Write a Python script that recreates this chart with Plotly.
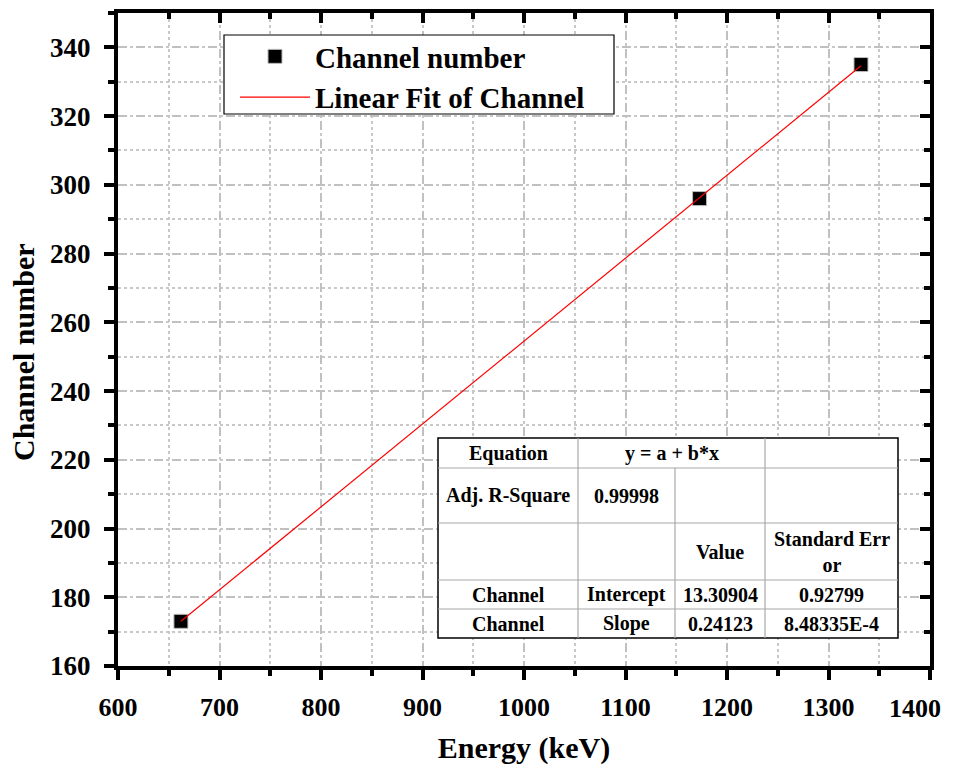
import plotly.graph_objects as go

energy = [662, 1173, 1332]
channel = [173, 296, 335]
intercept = 13.30904
slope = 0.24123
fit_x = [662, 1332]
fit_y = [intercept + slope * v for v in fit_x]

x_ticks = [600, 700, 800, 900, 1000, 1100, 1200, 1300, 1400]
x_tick_labels = ["600", "700", "800", "900", "1000", "1100", "1200", "1300", "1400"]
y_ticks = [160, 180, 200, 220, 240, 260, 280, 300, 320, 340]

table_text = [
    ["Equation", "y = a + b*x", "", ""],
    ["Adj. R-Square", "0.99998", "", ""],
    ["", "", "Value", "Standard Err<br>or"],
    ["Channel", "Intercept", "13.30904", "0.92799"],
    ["Channel", "Slope", "0.24123", "8.48335E-4"],
]

OFF = 8  # default page body margin
W, H = 959 - OFF, 765 - OFF
L, R, T, B = 118, 930, 13, 666  # plot area in page pixels
FONT = "Liberation Serif"

def px(x):
    return (x - L) / (R - L)

def py(y):
    return (B - y) / (B - T)

fig = go.Figure()
fig.add_trace(go.Scatter(x=energy, y=channel, mode="markers", name="<b>Channel number</b>",
                         marker=dict(symbol="square", size=14, color="black",
                                     line=dict(color="#bbbbbb", width=1))))
fig.add_trace(go.Scatter(x=fit_x, y=fit_y, mode="lines", name="<b>Linear Fit of Channel</b>",
                         line=dict(color="red", width=1.2)))
fig.add_trace(go.Scatter(x=[1000], y=[250], xaxis="x2", yaxis="y2", mode="markers",
                         marker=dict(opacity=0), showlegend=False, hoverinfo="skip"))

axis_common = dict(showline=True, linecolor="black", linewidth=4, zeroline=False,
                   tickcolor="black", tickwidth=4, ticklen=10, automargin=False)

# the last label is drawn as an annotation nudged left so that it stays inside the page
shown_x_labels = x_tick_labels[:-1] + [""]

fig.update_layout(
    width=W, height=H,
    margin=dict(l=L - OFF, r=W - (R - OFF), t=T - OFF, b=H - (B - OFF), autoexpand=False),
    plot_bgcolor="white", paper_bgcolor="white",
    font=dict(family=FONT, color="black"),
    xaxis=dict(range=[600, 1400], tickvals=x_ticks, ticktext=shown_x_labels, ticks="outside",
               showgrid=True, gridcolor="#c0c0c0", gridwidth=2, griddash="dash",
               minor=dict(dtick=50, tick0=600, ticks="outside", ticklen=6, tickwidth=4, tickcolor="black",
                          showgrid=True, gridcolor="#c8c8c8", gridwidth=1.5, griddash="dot"),
               title=dict(text="Energy (keV)", font=dict(family=FONT, size=30, weight="bold"), standoff=31),
               tickfont=dict(family=FONT, size=26, color="black", weight="bold"),
               ticklabelstandoff=5, ticklabeloverflow="allow",
               **axis_common),
    yaxis=dict(range=[160, 350], tickvals=y_ticks, ticks="outside",
               showgrid=True, gridcolor="#c0c0c0", gridwidth=2, griddash="dash",
               minor=dict(dtick=10, tick0=160, ticks="outside", ticklen=6, tickwidth=4, tickcolor="black",
                          showgrid=True, gridcolor="#c8c8c8", gridwidth=1.5, griddash="dot"),
               tickfont=dict(family=FONT, size=27, color="black", weight="bold"),
               ticklabelstandoff=8,
               **axis_common),
    xaxis2=dict(overlaying="x", side="top", matches="x", range=[600, 1400], tickvals=x_ticks,
                ticks="inside", showticklabels=False, showgrid=False, automargin=False,
                minor=dict(dtick=50, tick0=600, ticks="inside", ticklen=6, tickwidth=4, tickcolor="black"),
                showline=True, linecolor="black", linewidth=4, tickcolor="black", tickwidth=4, ticklen=10),
    yaxis2=dict(overlaying="y", side="right", matches="y", range=[160, 350], tickvals=y_ticks,
                ticks="inside", showticklabels=False, showgrid=False, automargin=False,
                minor=dict(dtick=10, tick0=160, ticks="inside", ticklen=6, tickwidth=4, tickcolor="black"),
                showline=True, linecolor="black", linewidth=4, tickcolor="black", tickwidth=4, ticklen=10),
    legend=dict(x=px(235), y=py(31), xanchor="left", yanchor="top",
                bgcolor="rgba(0,0,0,0)", borderwidth=0,
                font=dict(family=FONT, size=29, color="black"), itemwidth=70,
                tracegroupgap=0),
    showlegend=True,
)

shapes = []
# legend box
shapes.append(dict(type="rect", xref="paper", yref="paper", x0=px(224), x1=px(614),
                   y0=py(35), y1=py(114), fillcolor="white",
                   line=dict(color="black", width=1.2), layer="above"))

# table
cols = [438, 578, 675, 765, 898]
rows = [438, 468, 523, 580, 609, 638]
shapes.append(dict(type="rect", xref="paper", yref="paper", x0=px(cols[0]), x1=px(cols[-1]),
                   y0=py(rows[0]), y1=py(rows[-1]), fillcolor="white",
                   line=dict(color="black", width=1.5), layer="above"))
gray = dict(color="#a8a8a8", width=1.2)
for r in rows[1:-1]:
    shapes.append(dict(type="line", xref="paper", yref="paper", x0=px(cols[0]), x1=px(cols[-1]),
                       y0=py(r), y1=py(r), line=gray, layer="above"))
for ci, c in enumerate(cols[1:-1], start=1):
    top = rows[1] if ci == 2 else rows[0]
    shapes.append(dict(type="line", xref="paper", yref="paper", x0=px(c), x1=px(c),
                       y0=py(top), y1=py(rows[-1]), line=gray, layer="above"))
fig.update_layout(shapes=shapes)

annotations = []
for ri, row in enumerate(table_text):
    yc = (rows[ri] + rows[ri + 1]) / 2
    for ci, txt in enumerate(row):
        if not txt:
            continue
        if ri == 0 and ci == 1:
            xc = (cols[1] + cols[3]) / 2
        else:
            xc = (cols[ci] + cols[ci + 1]) / 2
        annotations.append(dict(x=px(xc), y=py(yc), xref="paper", yref="paper",
                                text=txt, showarrow=False,
                                xanchor="center", yanchor="middle",
                                font=dict(family=FONT, size=20, color="black", weight="bold")))
# y-axis title
annotations.append(dict(x=px(23), y=py(352), xref="paper", yref="paper", text="Channel number",
                        textangle=-90, showarrow=False, xanchor="center", yanchor="middle",
                        font=dict(family=FONT, size=30, color="black", weight="bold")))
# last x tick label, kept inside the visible page
annotations.append(dict(x=x_ticks[-1], xref="x", y=py(692), yref="paper", text=x_tick_labels[-1],
                        showarrow=False, xanchor="right", yanchor="top", xshift=13,
                        font=dict(family=FONT, size=26, color="black", weight="bold")))
fig.update_layout(annotations=annotations)

fig.write_html("out.html")
